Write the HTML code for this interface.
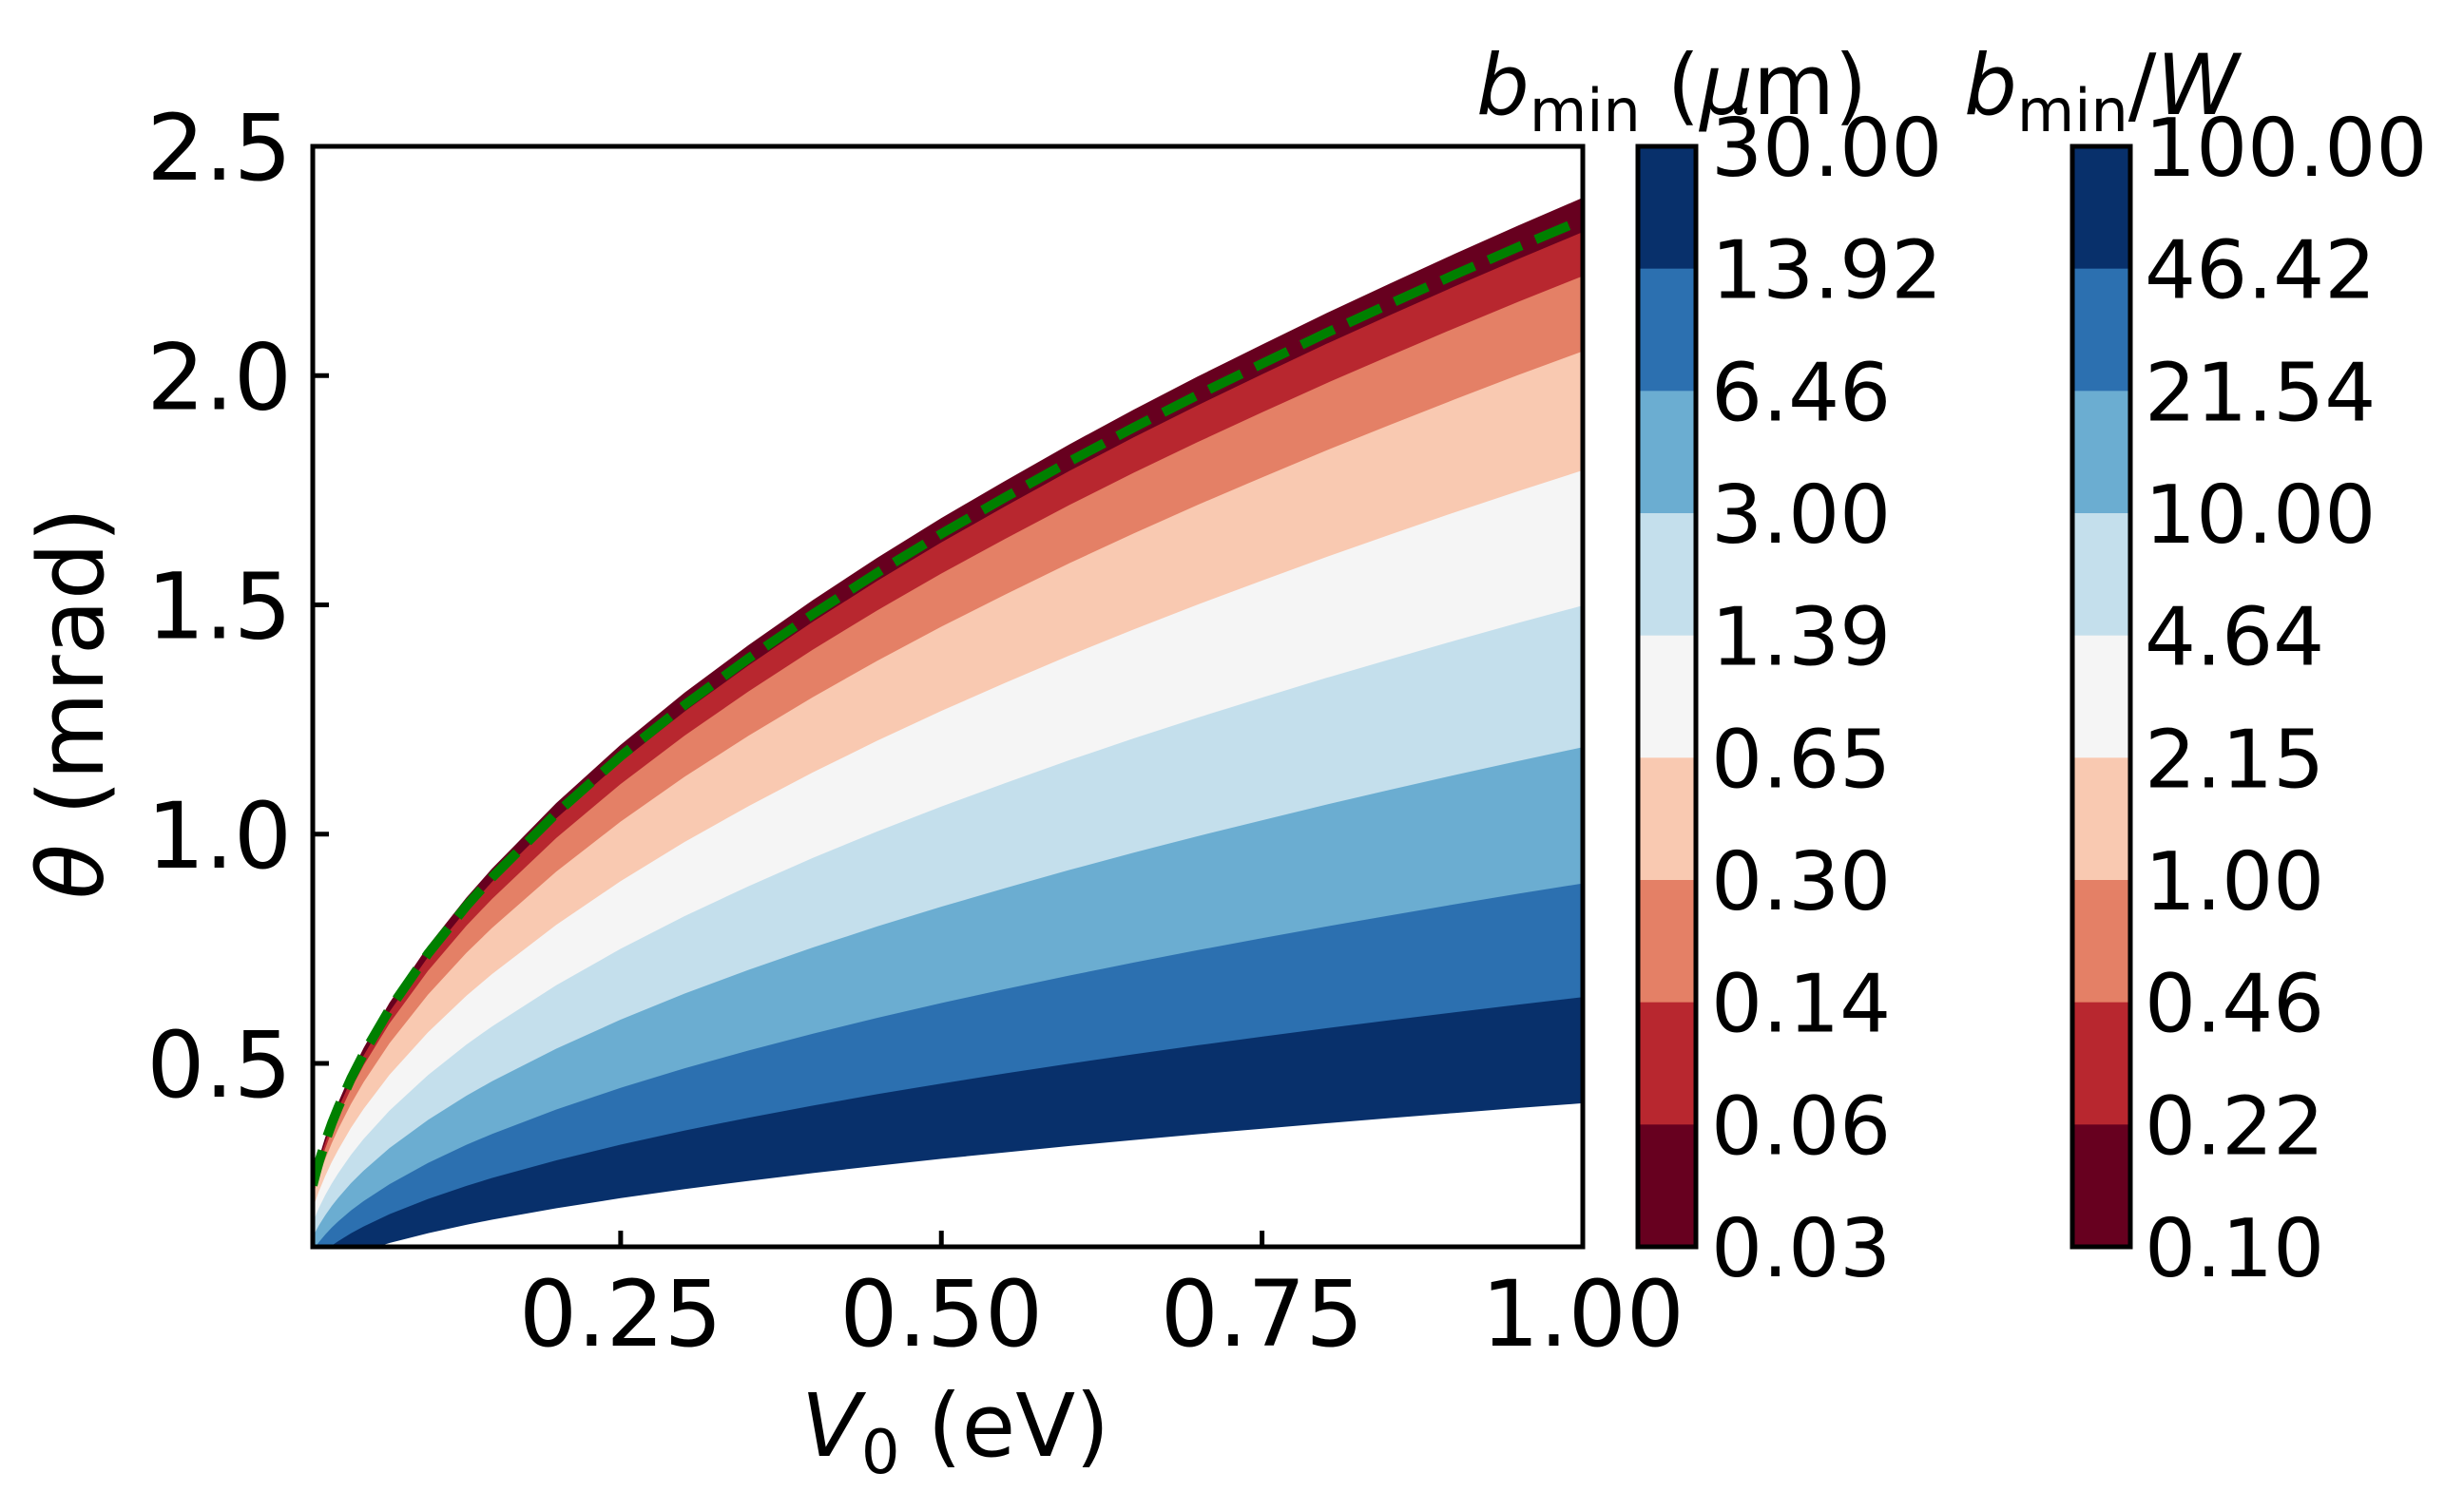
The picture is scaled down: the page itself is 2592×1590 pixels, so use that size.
<!DOCTYPE html>
<html><head><meta charset="utf-8"><style>
html,body{margin:0;padding:0;background:#fff;}
svg{display:block;font-family:"DejaVu Sans","Liberation Sans",sans-serif;}
</style></head><body>
<svg id="chart" width="2592" height="1590" viewBox="0 0 2592 1590" xmlns="http://www.w3.org/2000/svg">
<defs><clipPath id="plotclip"><rect x="329" y="154" width="1336" height="1158"/></clipPath></defs>
<rect x="0" y="0" width="2592" height="1590" fill="#fff"/>
<g id="bands" clip-path="url(#plotclip)"></g>
<g id="crit" clip-path="url(#plotclip)"></g>
<rect x="329" y="154" width="1336" height="1158" fill="none" stroke="#000" stroke-width="5"/>
<g id="axes"></g>
<text x="1005" y="1532" font-size="92" text-anchor="middle"><tspan font-style="italic">V</tspan><tspan font-size="64" dy="18">0</tspan><tspan dy="-18"> (eV)</tspan></text>
<text transform="translate(108,740) rotate(-90)" font-size="95" text-anchor="middle"><tspan font-style="italic">θ</tspan> (mrad)</text>
<text x="1553" y="120" font-size="88"><tspan font-style="italic">b</tspan><tspan font-size="62" dy="18">min</tspan><tspan dy="-18"> (</tspan><tspan font-style="italic">μ</tspan>m)</text>
<text x="2066" y="120" font-size="88"><tspan font-style="italic">b</tspan><tspan font-size="62" dy="18">min</tspan><tspan dy="-18">/</tspan><tspan font-style="italic">W</tspan></text>
<g id="cbars"></g>
</svg>
<script>
// ---- data ----
var v0Samples = [0.01,0.0125,0.015,0.02,0.025,0.03,0.04,0.05,0.07,0.1,0.13,0.15,0.2,0.25,0.3,0.35,0.4,0.45,0.5,0.55,0.6,0.65,0.7,0.75,0.8,0.85,0.9,0.95,1.0];
var thetaCrit = [0.234,0.2616,0.2866,0.331,0.370,0.405,0.468,0.523,0.619,0.740,0.844,0.906,1.046,1.170,1.282,1.384,1.480,1.570,1.655,1.735,1.813,1.887,1.958,2.026,2.093,2.157,2.220,2.281,2.340];
// fraction of critical angle at each band boundary, top (region edge) to bottom
var boundaryFrac = [1.02,0.988,0.947,0.877,0.766,0.640,0.508,0.381,0.275,0.177];
var bandColors = ["#67001f","#b8272f","#e48066","#f9c9b1","#f5f5f5","#c4dfec","#6badd1","#2c70b0","#08306b"];
var cbLabels1 = ["30.00","13.92","6.46","3.00","1.39","0.65","0.30","0.14","0.06","0.03"];
var cbLabels2 = ["100.00","46.42","21.54","10.00","4.64","2.15","1.00","0.46","0.22","0.10"];
var xTicks = [0.25,0.5,0.75,1.0];
var xTickLabels = ["0.25","0.50","0.75","1.00"];
var yTicks = [0.5,1.0,1.5,2.0,2.5];
var yTickLabels = ["0.5","1.0","1.5","2.0","2.5"];

var X0=329,X1=1665,Y0=1312,Y1=154,XMIN=0.01,XMAX=1.0,YMIN=0.1,YMAX=2.5;
function xs(v){return X0+(v-XMIN)/(XMAX-XMIN)*(X1-X0);}
function ys(t){return Y0-(t-YMIN)/(YMAX-YMIN)*(Y0-Y1);}
var NS='http://www.w3.org/2000/svg';
function mk(tag,parent,attrs){var e=document.createElementNS(NS,tag);for(var k in attrs)e.setAttribute(k,attrs[k]);parent.appendChild(e);return e;}

var bands=document.getElementById('bands');
function curve(k){return v0Samples.map(function(v,i){return [xs(v),ys(boundaryFrac[k]*thetaCrit[i])];});}
for(var b=0;b<bandColors.length;b++){
  var up=curve(b), lo=curve(b+1).reverse();
  var pts=up.concat(lo).map(function(p){return p[0].toFixed(1)+','+p[1].toFixed(1);}).join(' ');
  var p=mk('polygon',bands,{points:pts,fill:bandColors[b],stroke:bandColors[b],'stroke-width':1});
  
  
}
var crit=document.getElementById('crit');
var cp=v0Samples.map(function(v,i){return xs(v).toFixed(1)+','+ys(thetaCrit[i]).toFixed(1);}).join(' ');
var cl=mk('polyline',crit,{points:cp,fill:'none',stroke:'#008000','stroke-width':10,'stroke-dasharray':'38,16'});



var axes=document.getElementById('axes');
xTicks.forEach(function(v,i){
  var x=xs(v);
  var t=mk('line',axes,{x1:x,y1:Y0,x2:x,y2:Y0-17,stroke:'#000','stroke-width':5});
  
  
  var l=mk('text',axes,{x:x,y:1416,'font-size':96,'text-anchor':'middle'});
  l.textContent=xTickLabels[i];
  
  
});
yTicks.forEach(function(v,i){
  var y=ys(v);
  var t=mk('line',axes,{x1:X0,y1:y,x2:X0+17,y2:y,stroke:'#000','stroke-width':5});
  
  
  var l=mk('text',axes,{x:307,y:y+35,'font-size':96,'text-anchor':'end'});
  l.textContent=yTickLabels[i];
  
  
});

var cbs=document.getElementById('cbars');
function colorbar(cx,labels,lx,name){
  var g=mk('g',cbs,{});
  
  
  var n=bandColors.length, h=(Y0-Y1)/n;
  for(var i=0;i<n;i++){
    var r=mk('rect',g,{x:cx,y:Y1+i*h,width:61,height:h+0.5,fill:bandColors[n-1-i]});
    
    
  }
  mk('rect',g,{x:cx,y:Y1,width:61,height:Y0-Y1,fill:'none',stroke:'#000','stroke-width':5});
  labels.forEach(function(s,i){
    var t=mk('text',g,{x:lx,y:Y1+i*h+31,'font-size':85});
    t.textContent=s;
    
    
  });
}
colorbar(1723,cbLabels1,1800,'colorbar-bmin');
colorbar(2180,cbLabels2,2256,'colorbar-bmin-ratio');
</script>
</body></html>
